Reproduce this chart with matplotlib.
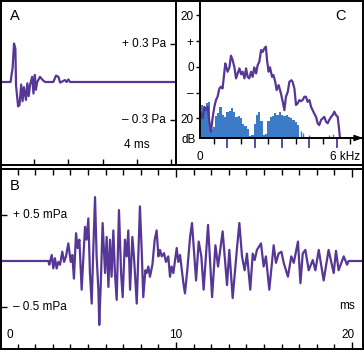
import matplotlib
matplotlib.use('Agg')
import matplotlib.pyplot as plt
from matplotlib.lines import Line2D
from matplotlib.transforms import blended_transform_factory

plt.rcParams['font.family'] = ['Liberation Sans', 'DejaVu Sans']

# ---------------- data ----------------
# Panel A: click waveform (ms, Pa)
a_time = [0, 0.31, 0.34, 0.37, 0.41, 0.45, 0.47, 0.53, 0.57, 0.62, 0.66, 0.70, 0.76,
          0.80, 0.84, 0.88, 0.94, 0.98, 1.02, 1.05, 1.09, 1.17, 1.25, 1.32, 1.56, 1.64,
          1.71, 1.76, 1.90, 1.95, 2.00, 2.05, 5.2]
a_pa = [0, 0, 0.06, 0.11, 0.30, 0.26, -0.03, -0.19, -0.18, -0.02, -0.15, -0.04, -0.14,
        -0.01, -0.11, -0.02, 0.04, -0.09, 0.055, -0.06, 0.0, 0.04, 0.015, 0, 0, 0.05,
        0.04, -0.005, 0.015, 0, 0.02, 0, 0]
a_yticks = [0.3, -0.3]
a_ylabels = ['+ 0.3 Pa', '\u2013 0.3 Pa']
a_xticks = [1, 2, 3, 4, 5]

# Panel B: waveform (ms, mPa)
b_time = [0, 2.27, 2.75, 2.80, 2.94, 3.03, 3.12, 3.22, 3.31, 3.41,
          3.54, 3.64, 3.75, 3.88, 4.02, 4.11, 4.20, 4.32, 4.41, 4.51,
          4.64, 4.73, 4.83, 4.92, 5.02, 5.11, 5.21, 5.30, 5.40, 5.49,
          5.59, 5.64, 5.74, 5.83, 5.97, 6.06, 6.16, 6.25, 6.34, 6.44,
          6.53, 6.63, 6.76, 6.88, 6.97, 7.10, 7.20, 7.29, 7.39, 7.52,
          7.61, 7.77, 7.88, 7.95, 8.05, 8.14, 8.26, 8.33, 8.43, 8.52,
          8.66, 8.79, 8.90, 9.00, 9.09, 9.19, 9.32, 9.43, 9.56, 9.66,
          9.75, 9.85, 10.04, 10.13, 10.23, 10.42, 10.51, 10.64, 10.80, 10.91,
          11.14, 11.29, 11.44, 11.57, 11.82, 12.05, 12.24, 12.39, 12.65, 12.90,
          13.03, 13.22, 13.47, 13.60, 13.75, 13.90, 14.03, 14.22, 14.36, 14.47,
          14.60, 14.83, 14.98, 15.11, 15.30, 15.55, 15.68, 15.83, 15.99, 16.12,
          16.36, 16.55, 16.69, 16.93, 17.07, 17.20, 17.35, 17.54, 17.77, 17.92,
          18.11, 18.39, 18.67, 18.96, 19.09, 19.24, 19.53, 19.72, 19.81, 20.7]
b_mpa = [0, 0, 0, -0.04, 0.065, -0.08, 0.03, -0.08, -0.01, -0.04,
         0.10, -0.01, 0.05, 0.19, -0.01, 0.065, -0.19, 0.30, 0.14, 0.23,
         -0.31, 0.01, 0.37, 0.23, 0.46, -0.13, -0.46, 0.12, 0.69, 0.05,
         -0.31, -0.69, -0.17, 0.41, -0.13, 0.26, -0.28, 0.23, -0.17, 0.33,
         -0.13, -0.42, 0.55, -0.13, -0.39, 0.23, 0.05, 0.33, -0.31, 0.26,
         0.05, -0.46, 0.17, 0.59, 0.12, -0.39, -0.10, -0.13, -0.06, -0.17,
         -0.04, 0.23, 0.33, 0.05, 0.12, 0.05, 0.085, -0.01, 0.05, -0.17,
         -0.06, -0.13, 0.14, -0.01, 0.065, -0.24, -0.35, -0.10, 0.26, 0.41,
         -0.21, 0.21, 0.05, -0.31, 0.39, -0.39, 0.17, -0.06, 0.32, -0.26,
         0.12, -0.40, 0.15, 0.41, 0.05, -0.10, 0.08, -0.31, 0.08, 0.01,
         0.12, 0.19, -0.06, 0.05, -0.31, 0.17, -0.02, 0.08, 0.10, -0.02,
         -0.17, 0.05, -0.02, 0.21, -0.24, 0.08, 0.12, -0.10, 0.01, -0.10,
         0.12, -0.21, 0.12, -0.13, 0.11, -0.10, 0.05, -0.04, 0, 0]
b_yticks = [0.5, -0.5]
b_ylabels = ['+ 0.5 mPa', '\u2013 0.5 mPa']
b_xlabels = [0, 10, 20]

# Panel C: spectra (kHz, dB)
c_khz = [0.04, 0.12, 0.19, 0.26, 0.34, 0.41, 0.48, 0.56, 0.63, 0.70,
         0.77, 0.85, 0.92, 0.99, 1.07, 1.11, 1.17, 1.21, 1.29, 1.36,
         1.43, 1.51, 1.58, 1.65, 1.73, 1.80, 1.87, 1.95, 2.02, 2.09,
         2.16, 2.24, 2.31, 2.38, 2.46, 2.53, 2.60, 2.68, 2.75, 2.82,
         2.89, 2.94, 3.01, 3.07, 3.16, 3.22, 3.30, 3.36, 3.45, 3.55,
         3.63, 3.70, 3.77, 3.85, 3.92, 4.01, 4.06, 4.14, 4.21, 4.28,
         4.36, 4.43, 4.50, 4.58, 4.65, 4.72, 4.80, 4.87, 4.94, 5.01,
         5.09, 5.16, 5.23, 5.31, 5.38, 5.45, 5.53, 5.60, 5.67, 5.75,
         5.82, 5.89, 5.96, 6.04, 6.08, 6.14]
c_db = [-18.1, -20.0, -15.5, -16.8, -15.5, -21.3, -25.2, -19.4, -15.5, -12.9,
        -11.6, -8.4, -7.7, -8.4, -1.9, 1.3, -0.6, -1.9, -0.2, 4.3,
        2.6, -0.2, -4.5, -2.6, -0.6, -2.9, -1.9, -4.5, -0.6, -3.9,
        -4.5, -1.9, -3.9, -0.2, -2.6, 0.7, 1.9, 6.5, 5.8, 7.1,
        7.8, 2.6, -1.9, -0.2, -3.9, -3.2, -5.8, -9.0, -7.1, -10.3,
        -13.6, -16.8, -11.6, -9.7, -5.8, -5.2, -5.8, -8.4, -14.8, -14.2,
        -12.9, -13.3, -12.9, -11.6, -11.6, -13.6, -12.9, -15.5, -16.8, -18.1,
        -19.4, -21.9, -22.6, -20.6, -20.0, -19.4, -21.3, -21.9, -20.6, -19.4,
        -18.7, -17.4, -18.7, -19.4, -22.6, -27.6]
blue_khz = [0.1, 0.2, 0.3, 0.4, 0.5, 0.6, 0.7, 0.8, 0.9, 1.0,
            1.1, 1.2, 1.3, 1.4, 1.5, 1.6, 1.7, 1.8, 1.9, 2.0,
            2.1, 2.2, 2.3, 2.4, 2.5, 2.6, 2.7, 2.8, 2.9, 3.0,
            3.1, 3.2, 3.3, 3.4, 3.5, 3.6, 3.7, 3.8, 3.9, 4.0,
            4.1, 4.2, 4.3]
blue_db = [-15, -15.5, -14, -13.6, -24, -23.5, -19, -18, -15.5, -18.5,
           -19.5, -17.5, -17, -16, -17.5, -19.5, -19, -20, -22, -23,
           -24, -27, -26.5, -22, -18.5, -17.4, -21, -26.5, -26, -21,
           -19.5, -19, -18, -18.5, -17.5, -18.5, -19, -18.5, -19.5, -20,
           -20.5, -21.5, -22.5]
sparse_khz = [4.43, 4.53, 4.80, 5.67, 5.82, 6.81]
sparse_db = [-25, -25.5, -26.5, -26.5, -26, -27]
harm_khz = [1.2, 2.4, 3.6, 4.8, 6.0]
c_minor_khz = [0.6, 1.8, 3.0, 4.2, 5.4, 6.6]
c_yticks = [20, 10, 0, -10, -20]
c_ylabels = ['20', '+', '0', '\u2013', '20']

# ---------------- style ----------------
W, H = 364, 350
PURPLE = '#573795'
BLUE = '#3b7bc8'
LBL = 8.5
LET = 10.5
BORDER = 1.4

def fx(px):
    return px / W

def fy(py):
    return 1 - py / H

fig = plt.figure(figsize=(W / 100, H / 100), dpi=100)

# ---------------- Panel A ----------------
axA = fig.add_axes([0, fy(165), fx(176), 165 / H])
axA.plot(a_time, a_pa, color=PURPLE, lw=1.6)
axA.set_xlim(0, 176 / 34.17)
axA.set_ylim(-(165 - 82) / 128.3, 82 / 128.3)
for s in axA.spines.values():
    s.set_visible(False)
axA.set_xticks(a_xticks)
axA.set_yticks(a_yticks)
axA.tick_params(axis='x', direction='in', length=4, width=1, labelbottom=False)
axA.tick_params(axis='y', direction='in', length=4, width=1, left=False, right=True,
                labelleft=False, labelright=False)
trA = blended_transform_factory(axA.transAxes, axA.transData)
for v, lab in zip(a_yticks, a_ylabels):
    axA.text(fx(166) / fx(176), v, lab, transform=trA, ha='right', va='center', fontsize=LBL)
axA.text(4, -(145 - 82) / 128.3, '4 ms', ha='center', va='center', fontsize=LBL)
fig.text(fx(15), fy(16), 'A', ha='center', va='center', fontsize=LET)

# ---------------- Panel C ----------------
axC = fig.add_axes([fx(200), fy(138), fx(363) - fx(200), 138 / H])
axC.bar(blue_khz, [d - (-27.6) for d in blue_db], bottom=-27.6, width=0.1,
        color=BLUE, edgecolor='none')
axC.vlines(sparse_khz, -27.6, sparse_db, color=BLUE, lw=1.0)
axC.plot(c_khz, c_db, color=PURPLE, lw=1.6)
axC.set_xlim(0, 163 / 22.8)
axC.set_ylim(-27.6, 25.9)
axC.spines['top'].set_visible(False)
axC.spines['right'].set_visible(False)
axC.spines['left'].set_linewidth(BORDER)
axC.spines['bottom'].set_linewidth(BORDER)
axC.set_yticks(c_yticks)
axC.set_yticklabels(c_ylabels)
axC.tick_params(axis='y', direction='out', length=3, width=1, labelsize=LBL, pad=1.5)
axC.set_xticks(c_minor_khz)
axC.tick_params(axis='x', direction='out', length=4, width=1, labelbottom=False)
trC = blended_transform_factory(axC.transData, axC.transAxes)
for h in harm_khz:
    axC.add_line(Line2D([h, h], [0, -9 / 138], transform=trC, color=PURPLE, lw=1.3,
                        clip_on=False))
axC.annotate('', xy=(1.0, 0), xytext=(0.9, 0), xycoords='axes fraction',
             arrowprops=dict(arrowstyle='-|>,head_length=0.5,head_width=0.18',
                             color='black', lw=1.0, shrinkA=0, shrinkB=0))
fig.text(fx(189), fy(140), 'dB', ha='center', va='center', fontsize=LBL)
fig.text(fx(199.5), fy(157), '0', ha='center', va='center', fontsize=LBL)
fig.text(fx(360), fy(157), '6 kHz', ha='right', va='center', fontsize=LBL)
fig.text(fx(341), fy(16), 'C', ha='center', va='center', fontsize=LET)

# ---------------- Panel B ----------------
axB = fig.add_axes([0, 0, 1, (350 - 169) / H])
axB.plot(b_time, b_mpa, color=PURPLE, lw=1.6)
axB.set_xlim(0, 364 / 17.6)
axB.set_ylim(-(350 - 261) / 92.6, (261 - 169) / 92.6)
for s in axB.spines.values():
    s.set_visible(False)
axB.set_xticks(b_xlabels)
axB.set_xticks(list(range(1, 21)), minor=True)
axB.tick_params(axis='x', which='major', direction='in', length=6, width=1,
                top=True, bottom=True, labelbottom=False)
axB.tick_params(axis='x', which='minor', direction='in', length=4, width=1,
                top=True, bottom=True)
axB.set_yticks(b_yticks)
axB.tick_params(axis='y', direction='in', length=5, width=1, labelleft=False)
trB = blended_transform_factory(axB.transAxes, axB.transData)
for v, lab in zip(b_yticks, b_ylabels):
    axB.text(fx(13), v, lab, transform=trB, ha='left', va='center', fontsize=LBL)
trBx = blended_transform_factory(axB.transData, axB.transAxes)
for xv, xp in zip(b_xlabels, [10, 176, 348]):
    fig.text(fx(xp), fy(335), str(xv), ha='center', va='center', fontsize=LBL)
fig.text(fx(347), fy(306), 'ms', ha='center', va='center', fontsize=LBL)
fig.text(fx(15), fy(186), 'B', ha='center', va='center', fontsize=LET)

# ---------------- frame lines ----------------
def fline(x0, y0, x1, y1):
    fig.add_artist(Line2D([fx(x0), fx(x1)], [fy(y0), fy(y1)], transform=fig.transFigure,
                          color='black', lw=BORDER, solid_capstyle='butt'))

fline(0.7, 0, 0.7, 350)
fline(363.3, 0, 363.3, 350)
fline(0, 0.7, 364, 0.7)
fline(0, 349.3, 364, 349.3)
fline(0, 165, 364, 165)
fline(0, 169, 364, 169)
fline(176, 0, 176, 165)

fig.savefig('out.png', dpi=100)
